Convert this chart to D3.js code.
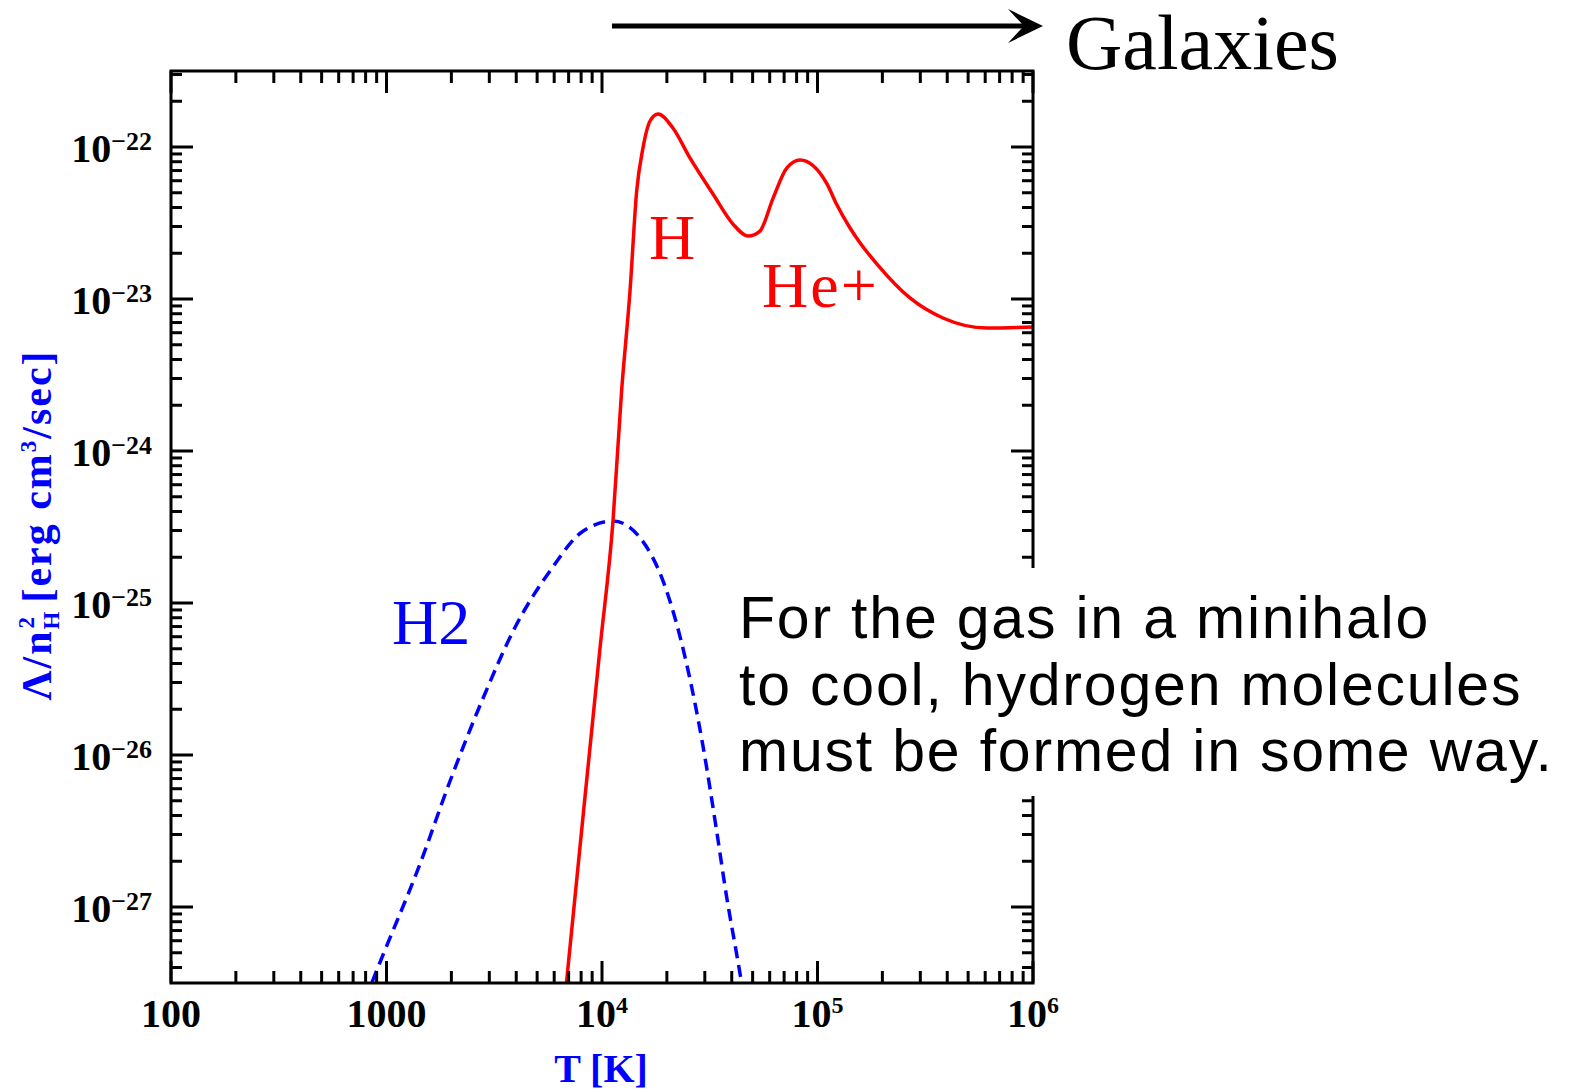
<!DOCTYPE html>
<html>
<head>
<meta charset="utf-8">
<script src="https://cdn.jsdelivr.net/npm/d3@7"></script>
<style>
  html, body { margin: 0; padding: 0; background: #fff; }
  svg { display: block; }
</style>
</head>
<body>
<svg id="chart" width="1580" height="1091"></svg>
<script>
// ---- data (log10 values) ----
const hLogT  = [3.829, 3.913, 3.991, 4.051, 4.091, 4.130, 4.161, 4.190, 4.223, 4.260, 4.329, 4.408, 4.515, 4.608, 4.678, 4.733, 4.794, 4.858, 4.919, 5.044, 5.088, 5.151, 5.197, 5.276, 5.429, 5.582, 5.787, 6.000];
const hLogL  = [-27.585, -26.390, -25.294, -24.461, -23.605, -22.947, -22.289, -22.007, -21.829, -21.783, -21.875, -22.072, -22.309, -22.507, -22.586, -22.553, -22.336, -22.138, -22.086, -22.243, -22.375, -22.533, -22.630, -22.770, -22.993, -23.125, -23.191, -23.184];
const h2LogT = [2.900, 2.985, 3.155, 3.295, 3.449, 3.604, 3.759, 3.913, 4.052, 4.176, 4.300, 4.393, 4.470, 4.532, 4.579, 4.625, 4.660];
const h2LogL = [-27.61, -27.311, -26.719, -26.171, -25.623, -25.140, -24.789, -24.526, -24.461, -24.570, -24.921, -25.403, -25.952, -26.500, -26.939, -27.311, -27.600];

const xTickBases = ["100", "1000", "10", "10", "10"];
const xTickExps  = ["", "", "4", "5", "6"];
const xTickVals  = [1e2, 1e3, 1e4, 1e5, 1e6];
const yTickExps  = [-22, -23, -24, -25, -26, -27];

const curveLabels = ["H", "He+", "H2"];
const noteLines = ["For the gas in a minihalo", "to cool, hydrogen molecules", "must be formed in some way."];
const topLabel = "Galaxies";

// ---- layout ----
const L = 171, R = 1033, T = 71, B = 983;
const svg = d3.select("#chart");

const x = d3.scaleLog().domain([1e2, 1e6]).range([L, R]);
const y = d3.scaleLog().domain([Math.pow(10, -27.5), Math.pow(10, -21.5)]).range([B, T]);

const hData  = hLogT.map((t, i) => [Math.pow(10, t), Math.pow(10, hLogL[i])]);
const h2Data = h2LogT.map((t, i) => [Math.pow(10, t), Math.pow(10, h2LogL[i])]);

svg.append("defs").append("clipPath").attr("id", "clip")
  .append("rect").attr("x", L).attr("y", T).attr("width", R - L).attr("height", B - T);

const line = d3.line().x(d => x(d[0])).y(d => y(d[1])).curve(d3.curveMonotoneX);

const plot = svg.append("g").attr("clip-path", "url(#clip)");
plot.append("path").datum(h2Data).attr("d", line)
  .attr("fill", "none").attr("stroke", "#0000ff").attr("stroke-width", 3.5)
  .attr("stroke-dasharray", "12,7");
plot.append("path").datum(hData).attr("d", line)
  .attr("fill", "none").attr("stroke", "#ff0000").attr("stroke-width", 3.5)
  .attr("stroke-linejoin", "round");

// ---- ticks (all four sides, inward) ----
const isMajor = v => Math.abs(Math.log10(v) - Math.round(Math.log10(v))) < 1e-6;
const tk = svg.append("g").attr("stroke", "#000").attr("stroke-width", 3);
x.ticks().forEach(v => {
  const len = isMajor(v) ? 22 : 12;
  const px = x(v);
  tk.append("line").attr("x1", px).attr("x2", px).attr("y1", B).attr("y2", B - len);
  tk.append("line").attr("x1", px).attr("x2", px).attr("y1", T).attr("y2", T + len);
});
y.ticks().forEach(v => {
  const len = isMajor(v) ? 22 : 11;
  const py = y(v);
  if (py < T - 0.5 || py > B + 0.5) return;
  tk.append("line").attr("x1", L).attr("x2", L + len).attr("y1", py).attr("y2", py);
  tk.append("line").attr("x1", R).attr("x2", R - len).attr("y1", py).attr("y2", py);
});
svg.append("rect").attr("x", L).attr("y", T).attr("width", R - L).attr("height", B - T)
  .attr("fill", "none").attr("stroke", "#000").attr("stroke-width", 3);

// ---- tick labels ----
const lblFont = "'Liberation Serif', 'Times New Roman', serif";
xTickVals.forEach((v, i) => {
  const t = svg.append("text").attr("x", x(v)).attr("y", 1027)
    .attr("text-anchor", "middle").attr("font-family", lblFont).attr("font-weight", "bold")
    .attr("font-size", 40).attr("fill", "#000");
  t.append("tspan").text(xTickBases[i]);
  if (xTickExps[i]) t.append("tspan").attr("dy", -14).attr("font-size", 24).text(xTickExps[i]);
});
yTickExps.forEach(e => {
  const py = y(Math.pow(10, e));
  const t = svg.append("text").attr("x", 152).attr("y", py + 15)
    .attr("text-anchor", "end").attr("font-family", lblFont).attr("font-weight", "bold")
    .attr("font-size", 40).attr("fill", "#000");
  t.append("tspan").text("10");
  t.append("tspan").attr("dy", -12).attr("font-size", 26).text("\u2212" + Math.abs(e));
});

// ---- axis titles ----
svg.append("text").attr("x", 601).attr("y", 1082).attr("text-anchor", "middle")
  .attr("font-family", lblFont).attr("font-weight", "bold").attr("font-size", 40)
  .attr("fill", "#0000ff").text("T [K]");

const yt = svg.append("text").attr("transform", "translate(51,525) rotate(-90)")
  .attr("text-anchor", "middle").attr("font-family", lblFont).attr("font-weight", "bold")
  .attr("font-size", 42).attr("letter-spacing", 2).attr("fill", "#0000ff");
yt.append("tspan").text("\u039B/n");
yt.append("tspan").attr("dy", 8).attr("font-size", 23).text("H");
yt.append("tspan").attr("dx", -19).attr("dy", -25).attr("font-size", 23).text("2");
yt.append("tspan").attr("dy", 17).text(" [erg cm");
yt.append("tspan").attr("dy", -15).attr("font-size", 23).text("3");
yt.append("tspan").attr("dy", 15).text("/sec]");

// ---- curve labels ----
const serif = "'Liberation Serif', 'Times New Roman', serif";
svg.append("text").attr("x", 649).attr("y", 259).attr("font-family", serif)
  .attr("font-size", 64).attr("fill", "#ff0000").text(curveLabels[0]);
svg.append("text").attr("x", 762).attr("y", 307).attr("font-family", serif)
  .attr("font-size", 64).attr("letter-spacing", 2).attr("fill", "#ff0000").text(curveLabels[1]);
svg.append("text").attr("x", 392).attr("y", 644).attr("font-family", serif)
  .attr("font-size", 64).attr("fill", "#0000ff").text(curveLabels[2]);

// ---- note box ----
svg.append("rect").attr("x", 725).attr("y", 568).attr("width", 855).attr("height", 228).attr("fill", "#fff");
const note = svg.append("text").attr("font-family", "'Liberation Sans', Arial, sans-serif")
  .attr("font-size", 59).attr("letter-spacing", 1.8).attr("fill", "#000");
noteLines.forEach((s, i) => {
  note.append("tspan").attr("x", 739).attr("y", 638 + i * 66.5).text(s);
});

// ---- Galaxies arrow ----
svg.append("line").attr("x1", 612).attr("x2", 1030).attr("y1", 26).attr("y2", 26)
  .attr("stroke", "#000").attr("stroke-width", 5);
svg.append("path").attr("d", "M1043,26 L1008,9 Q1020,22 1024,26 Q1020,30 1008,43 Z").attr("fill", "#000");
svg.append("text").attr("x", 1066).attr("y", 69).attr("font-family", serif)
  .attr("font-size", 78).attr("fill", "#000").text(topLabel);
</script>
</body>
</html>
